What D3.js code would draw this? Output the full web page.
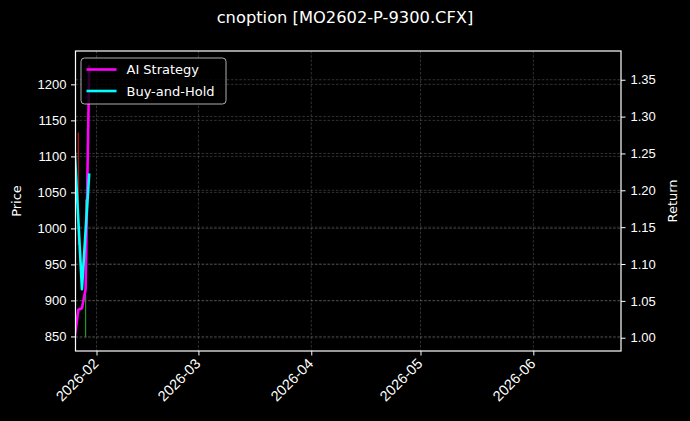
<!DOCTYPE html>
<html lang="en">
<head>
  <meta charset="UTF-8">
  <title>cnoption [MO2602-P-9300.CFX]</title>
  <script src="https://d3js.org/d3.v7.min.js"></script>
  <style>
    body { margin: 0; background: #000; }
    svg { display: block; font-family: "DejaVu Sans", sans-serif; }
    .tick text { fill: #fff; font-size: 13px; }
    .tick line { stroke: #fff; }
    .domain { display: none; }
  </style>
</head>
<body>
  <div id="chart"></div>

  <script>
    // ------------------------ Data ------------------------

    const title = "cnoption [MO2602-P-9300.CFX]";
    const dates = ["2026-01-26", "2026-01-27", "2026-01-28", "2026-01-29", "2026-01-30"];
    const aiReturn = [1.000, 1.038, 1.040, 1.066, 1.370];
    const bhReturn = [1.255, 1.160, 1.066, 1.145, 1.223];

    // price high/low wicks that are visible
    const wickDates = ["2026-01-27", "2026-01-29"];
    const wickHigh = [1133, 1040];
    const wickLow = [977, 849];
    const wickUp = [false, true];

    const priceTicks = [850, 900, 950, 1000, 1050, 1100, 1150, 1200];
    const returnTicks = [1.00, 1.05, 1.10, 1.15, 1.20, 1.25, 1.30, 1.35];
    const monthTicks = ["2026-02-01", "2026-03-01", "2026-04-01", "2026-05-01", "2026-06-01"];

    // ------------------------ Setup ------------------------

    const W = 690, H = 421;
    const plot = { left: 75.5, right: 621, top: 51, bottom: 351 };
    const parse = d3.utcParse("%Y-%m-%d");

    const svg = d3.select("#chart").append("svg")
      .attr("width", W).attr("height", H);

    svg.append("rect").attr("width", W).attr("height", H).attr("fill", "#000");

    const x = d3.scaleUtc()
      .domain([new Date(Date.UTC(2026, 0, 26, 5, 30)), new Date(Date.UTC(2026, 5, 25, 2, 0))])
      .range([plot.left, plot.right]);
    const yPrice = d3.scaleLinear().domain([829.8, 1246.3]).range([plot.bottom, plot.top]);
    const yRet = d3.scaleLinear().domain([0.982, 1.389]).range([plot.bottom, plot.top]);

    svg.append("clipPath").attr("id", "clip")
      .append("rect")
      .attr("x", plot.left).attr("y", plot.top)
      .attr("width", plot.right - plot.left).attr("height", plot.bottom - plot.top);

    // ------------------------ Grid ------------------------

    const grid = svg.append("g")
      .attr("stroke", "#808080").attr("stroke-opacity", 0.55)
      .attr("stroke-width", 0.7).attr("stroke-dasharray", "2.6,1.6");

    grid.selectAll(".vx").data(monthTicks).enter().append("line")
      .attr("x1", d => x(parse(d))).attr("x2", d => x(parse(d)))
      .attr("y1", plot.top).attr("y2", plot.bottom);
    grid.selectAll(".hp").data(priceTicks).enter().append("line")
      .attr("x1", plot.left).attr("x2", plot.right)
      .attr("y1", d => yPrice(d)).attr("y2", d => yPrice(d));
    grid.selectAll(".hr").data(returnTicks).enter().append("line")
      .attr("x1", plot.left).attr("x2", plot.right)
      .attr("y1", d => yRet(d)).attr("y2", d => yRet(d));

    // ------------------------ Marks ------------------------

    const marks = svg.append("g").attr("clip-path", "url(#clip)");

    marks.selectAll(".wick").data(wickDates).enter().append("line")
      .attr("x1", d => x(parse(d))).attr("x2", d => x(parse(d)))
      .attr("y1", (d, i) => yPrice(wickHigh[i])).attr("y2", (d, i) => yPrice(wickLow[i]))
      .attr("stroke", (d, i) => wickUp[i] ? "#1f9a1f" : "#c81414")
      .attr("stroke-width", 1.2);

    const retLine = yScale => d3.line()
      .x((d, i) => x(parse(dates[i])))
      .y(d => yScale(d));

    marks.append("path").datum(aiReturn)
      .attr("d", retLine(yRet))
      .attr("fill", "none").attr("stroke", "#ff00ff").attr("stroke-width", 2.6)
      .attr("stroke-linejoin", "round");

    marks.append("path").datum(bhReturn)
      .attr("d", retLine(yRet))
      .attr("fill", "none").attr("stroke", "#00ffff").attr("stroke-width", 2.6)
      .attr("stroke-linejoin", "round");

    // ------------------------ Axes ------------------------

    svg.append("g")
      .attr("transform", `translate(${plot.left},0)`)
      .call(d3.axisLeft(yPrice).tickValues(priceTicks).tickSize(4.5).tickPadding(4.5)
        .tickFormat(d3.format("d")));

    svg.append("g")
      .attr("transform", `translate(${plot.right},0)`)
      .call(d3.axisRight(yRet).tickValues(returnTicks).tickSize(4.5).tickPadding(5)
        .tickFormat(d3.format(".2f")));

    const xAxis = svg.append("g")
      .attr("transform", `translate(0,${plot.bottom})`)
      .call(d3.axisBottom(x).tickValues(monthTicks.map(parse)).tickSize(4.5)
        .tickFormat(d3.utcFormat("%Y-%m")));

    xAxis.selectAll(".tick text")
      .style("font-size", "14.5px")
      .attr("text-anchor", "end")
      .attr("y", 0).attr("dy", 0)
      .attr("transform", "translate(2.5,13.5) rotate(-45)");

    svg.append("rect")
      .attr("x", plot.left).attr("y", plot.top)
      .attr("width", plot.right - plot.left).attr("height", plot.bottom - plot.top)
      .attr("fill", "none").attr("stroke", "#fff").attr("stroke-width", 1.2);

    // ------------------------ Labels ------------------------

    svg.append("text")
      .attr("x", W / 2).attr("y", 23)
      .attr("text-anchor", "middle").attr("fill", "#fff").attr("font-size", 16.3)
      .text(title);

    svg.append("text")
      .attr("transform", `translate(21,${(plot.top + plot.bottom) / 2}) rotate(-90)`)
      .attr("text-anchor", "middle").attr("fill", "#fff").attr("font-size", 13)
      .text("Price");

    svg.append("text")
      .attr("transform", `translate(677,${(plot.top + plot.bottom) / 2}) rotate(-90)`)
      .attr("text-anchor", "middle").attr("fill", "#fff").attr("font-size", 13)
      .text("Return");

    // ------------------------ Legend ------------------------

    const legendItems = [
      { label: "AI Strategy", color: "#ff00ff" },
      { label: "Buy-and-Hold", color: "#00ffff" }
    ];

    const legend = svg.append("g").attr("transform", "translate(81,58)");
    legend.append("rect")
      .attr("width", 145).attr("height", 46).attr("rx", 3.5)
      .attr("fill", "#000").attr("fill-opacity", 0.8)
      .attr("stroke", "#cccccc").attr("stroke-opacity", 0.85).attr("stroke-width", 1);

    const row = legend.selectAll(".row").data(legendItems).enter().append("g")
      .attr("transform", (d, i) => `translate(0,${11.5 + i * 21.5})`);
    row.append("line")
      .attr("x1", 5.5).attr("x2", 35.5)
      .attr("stroke", d => d.color).attr("stroke-width", 2.6);
    row.append("text")
      .attr("x", 45.5).attr("dy", "0.36em")
      .attr("fill", "#fff").attr("font-size", 13)
      .text(d => d.label);
  </script>
</body>
</html>
